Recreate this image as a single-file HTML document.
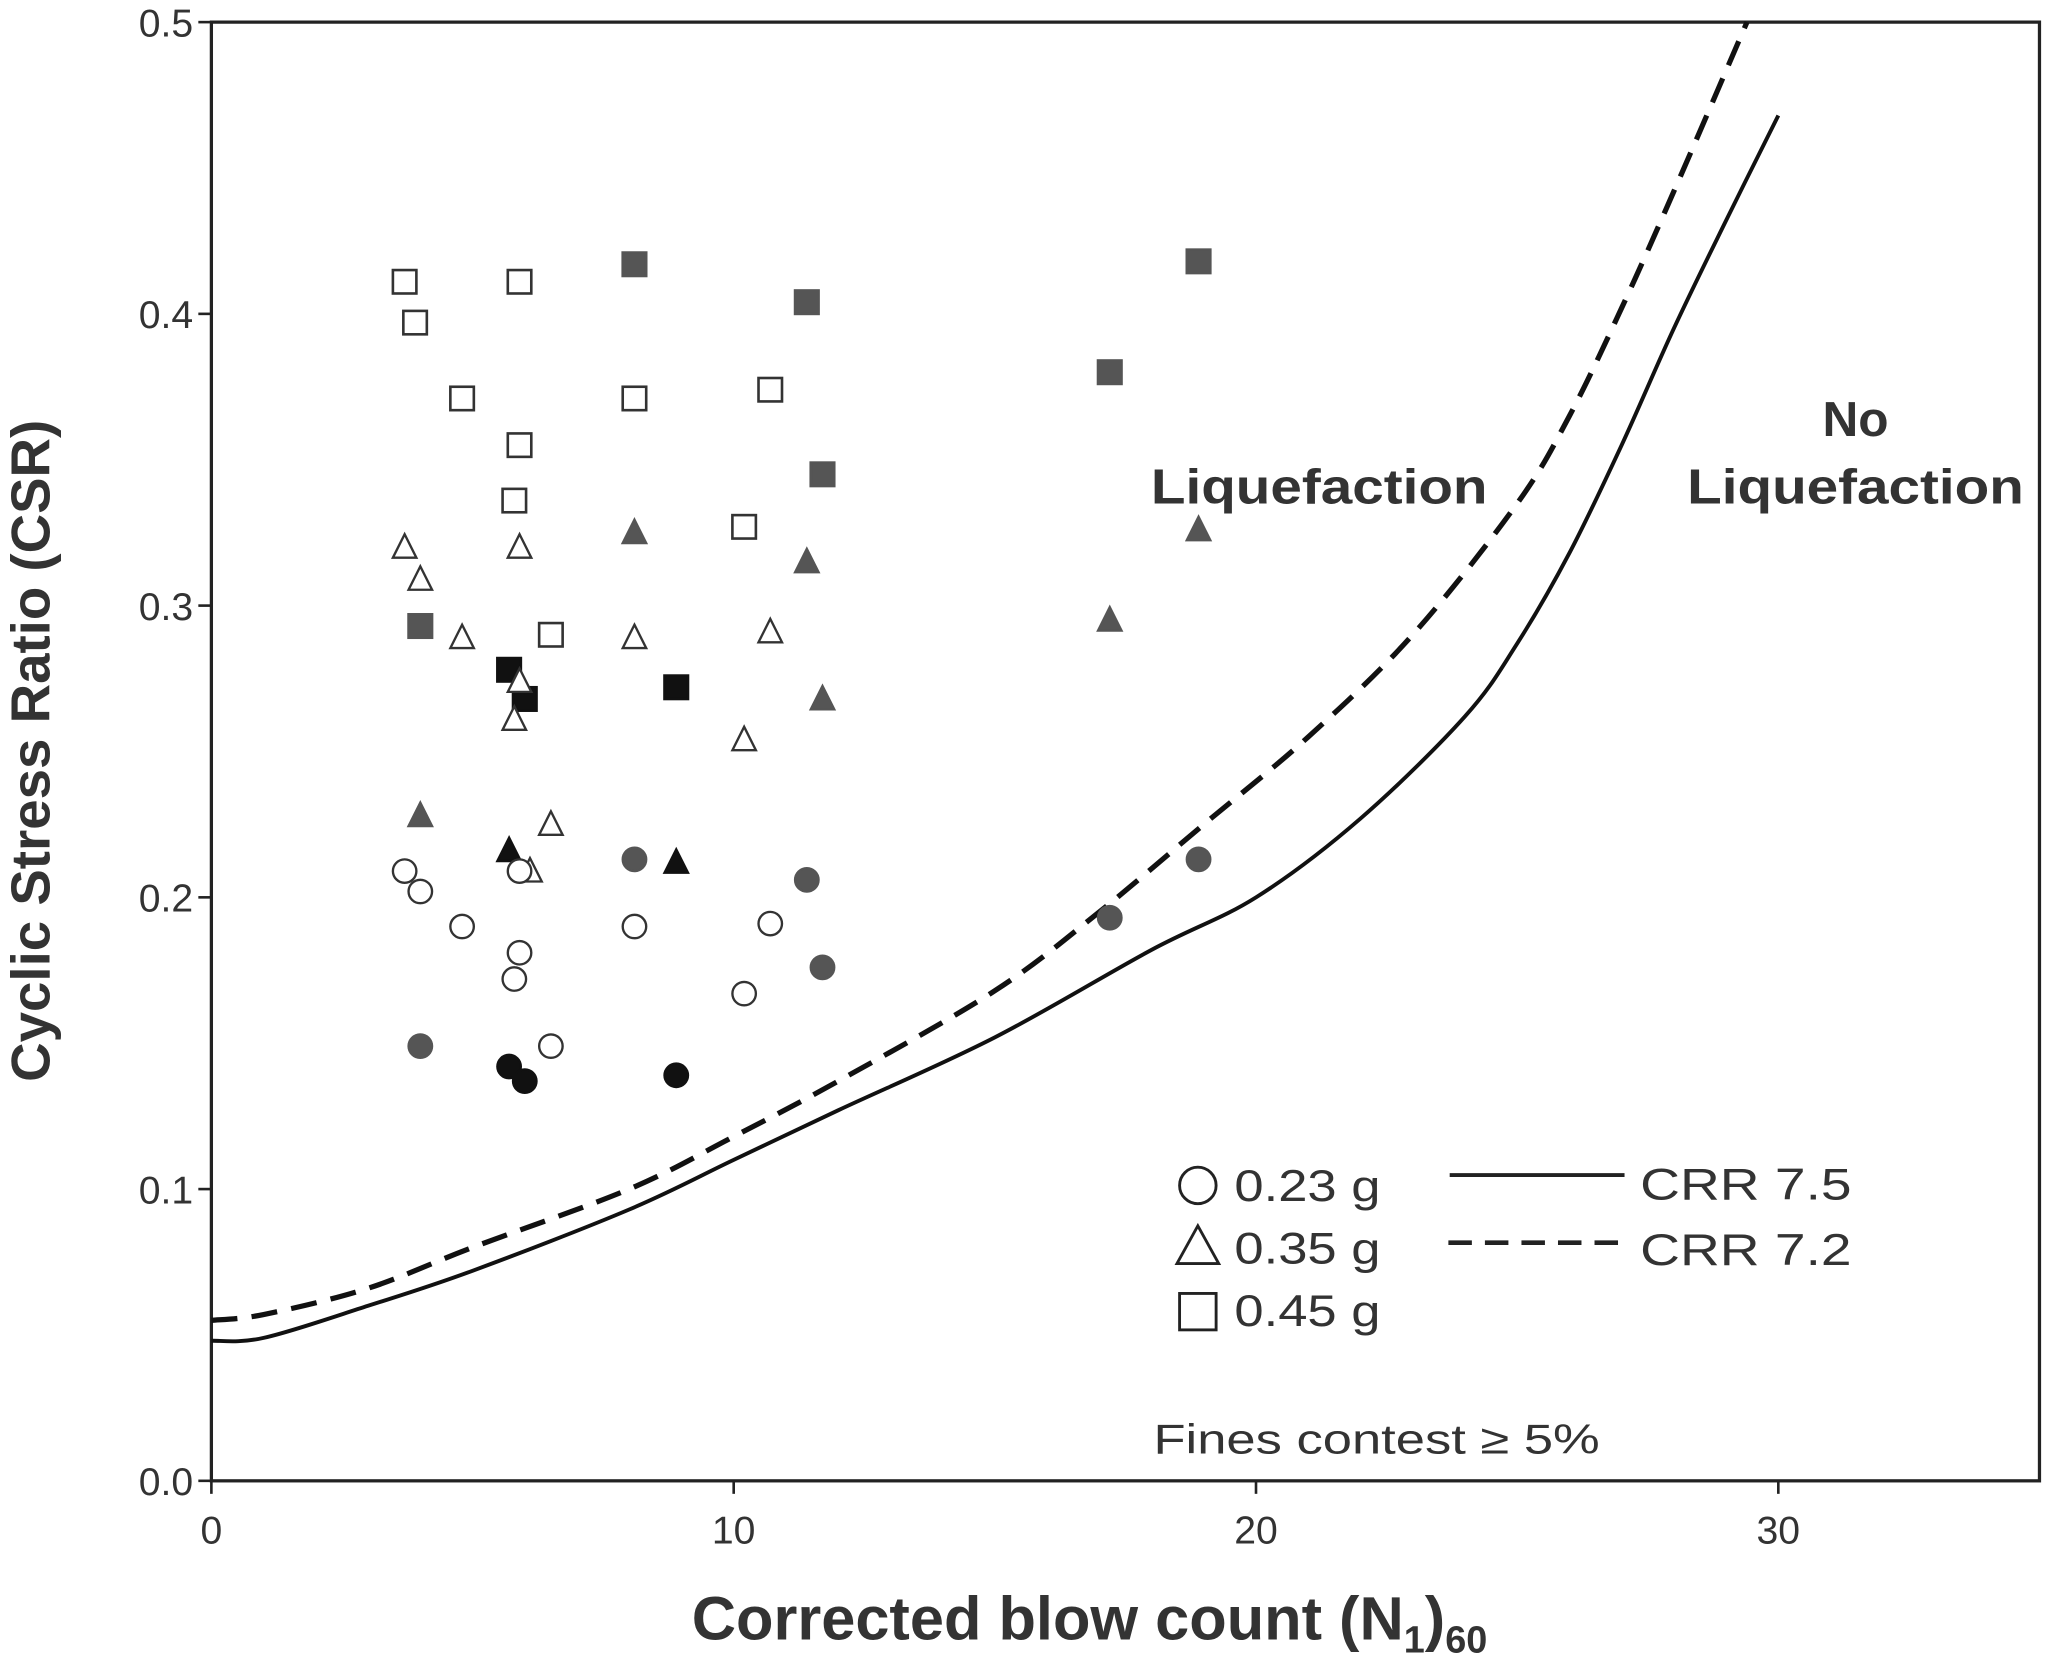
<!DOCTYPE html>
<html><head><meta charset="utf-8"><style>
html,body{margin:0;padding:0;background:#fff;}
svg{display:block;font-family:"Liberation Sans",Arial,sans-serif;}
</style></head><body>
<svg id="chart" width="2046" height="1663" viewBox="0 0 1568 1278" preserveAspectRatio="none" xmlns="http://www.w3.org/2000/svg">
<rect x="162" y="17" width="1401" height="1121" fill="none" stroke="#222" stroke-width="2.5"/>
<g id="axes"></g>
<g id="curves"></g>
<g id="marks"></g>
<text x="1011" y="387" text-anchor="middle" font-size="38" font-weight="bold" fill="#333" textLength="258" lengthAdjust="spacingAndGlyphs">Liquefaction</text>
<text x="1422" y="335" text-anchor="middle" font-size="38" font-weight="bold" fill="#333">No</text>
<text x="1422" y="387" text-anchor="middle" font-size="38" font-weight="bold" fill="#333" textLength="258" lengthAdjust="spacingAndGlyphs">Liquefaction</text>
<g>
<circle cx="918" cy="911" r="14" fill="#fff" stroke="#222" stroke-width="2.2"/>
<text x="946" y="923" font-size="34" fill="#333" textLength="112" lengthAdjust="spacingAndGlyphs">0.23 g</text>
<path d="M902,971 L918,942 L934,971 Z" fill="#fff" stroke="#222" stroke-width="2.2"/>
<text x="946" y="971" font-size="34" fill="#333" textLength="112" lengthAdjust="spacingAndGlyphs">0.35 g</text>
<rect x="904" y="994" width="28" height="28" fill="#fff" stroke="#222" stroke-width="2.2"/>
<text x="946" y="1019" font-size="34" fill="#333" textLength="112" lengthAdjust="spacingAndGlyphs">0.45 g</text>
<line x1="1111" y1="903" x2="1245" y2="903" stroke="#222" stroke-width="3"/>
<text x="1257" y="922" font-size="34" fill="#333" textLength="162" lengthAdjust="spacingAndGlyphs">CRR 7.5</text>
<line x1="1110" y1="955" x2="1246" y2="955" stroke="#222" stroke-width="3.5" stroke-dasharray="18,10"/>
<text x="1257" y="972" font-size="34" fill="#333" textLength="162" lengthAdjust="spacingAndGlyphs">CRR 7.2</text>
</g>
<text x="884" y="1117" font-size="32" fill="#333" textLength="342" lengthAdjust="spacingAndGlyphs">Fines contest ≥ 5%</text>
<text x="835" y="1260" text-anchor="middle" font-size="47" font-weight="bold" fill="#333">Corrected blow count (N<tspan font-size="29" dy="10">1</tspan><tspan dy="-10">)</tspan><tspan font-size="29" dy="10">60</tspan></text>
<text transform="translate(38,577) rotate(-90)" text-anchor="middle" font-size="42" font-weight="bold" fill="#333">Cyclic Stress Ratio (CSR)</text>
</svg>
<script>
const xTicks=[0,10,20,30];
const yTicks=[0.0,0.1,0.2,0.3,0.4,0.5];
const yTickLabels=["0.0","0.1","0.2","0.3","0.4","0.5"];
const crr75X=[0,1,3,5,8,10,12,15,18,20,22,24,25,26,27,28,29,30];
const crr75Y=[0.048,0.049,0.06,0.072,0.093,0.11,0.127,0.152,0.182,0.2,0.227,0.262,0.287,0.318,0.355,0.395,0.432,0.468];
const crr72X=[0,1,3,5,8,10,12,15,17,19,21,23,25,26,27,28,29.4];
const crr72Y=[0.055,0.057,0.066,0.08,0.1,0.118,0.137,0.168,0.195,0.225,0.255,0.29,0.335,0.365,0.402,0.442,0.5];
const openSqX=[3.7,3.9,4.8,5.9,5.9,5.8,6.5,8.1,10.2,10.7];
const openSqY=[0.411,0.397,0.371,0.411,0.355,0.336,0.290,0.371,0.327,0.374];
const graySqX=[4.0,8.1,11.4,11.7,17.2,18.9];
const graySqY=[0.293,0.417,0.404,0.345,0.380,0.418];
const blackSqX=[5.7,6.0,8.9];
const blackSqY=[0.278,0.268,0.272];
const openTriX=[3.7,4.0,4.8,5.9,5.8,5.9,6.5,8.1,10.2,10.7,6.1];
const openTriY=[0.320,0.309,0.289,0.320,0.261,0.274,0.225,0.289,0.254,0.291,0.209];
const grayTriX=[4.0,8.1,11.4,11.7,17.2,18.9];
const grayTriY=[0.228,0.325,0.315,0.268,0.295,0.326];
const blackTriX=[5.7,8.9];
const blackTriY=[0.216,0.212];
const openCirX=[3.7,4.0,4.8,5.9,5.9,5.8,6.5,8.1,10.2,10.7];
const openCirY=[0.209,0.202,0.190,0.209,0.181,0.172,0.149,0.190,0.167,0.191];
const grayCirX=[4.0,8.1,11.4,11.7,17.2,18.9];
const grayCirY=[0.149,0.213,0.206,0.176,0.193,0.213];
const blackCirX=[5.7,6.0,8.9];
const blackCirY=[0.142,0.137,0.139];

const NS="http://www.w3.org/2000/svg";
const X0=162,X1=1563,Y0=1138,Y1=17,XMAX=35,YMAX=0.5;
function sx(v){return X0+v*(X1-X0)/XMAX;}
function sy(v){return Y0-v*(Y0-Y1)/YMAX;}
function mk(tag,attrs,parent){const e=document.createElementNS(NS,tag);for(const k in attrs)e.setAttribute(k,attrs[k]);parent.appendChild(e);return e;}
const axes=document.getElementById('axes');
xTicks.forEach(t=>{
  const l=mk('line',{x1:sx(t),x2:sx(t),y1:Y0,y2:Y0+10,stroke:'#222','stroke-width':2},axes);
  
  
  const tx=mk('text',{x:sx(t),y:Y0+48,'text-anchor':'middle','font-size':30,fill:'#333'},axes);
  tx.textContent=String(t);
  
  
});
yTicks.forEach((t,i)=>{
  const l=mk('line',{x1:X0-10,x2:X0,y1:sy(t),y2:sy(t),stroke:'#222','stroke-width':2},axes);
  
  
  const tx=mk('text',{x:X0-14,y:sy(t)+11,'text-anchor':'end','font-size':30,fill:'#333'},axes);
  tx.textContent=yTickLabels[i];
  
  
});
function curve(xs,ys,dash,name){
  let d='';
  for(let i=0;i<xs.length;i++){
    const px=sx(xs[i]),py=sy(ys[i]);
    if(i===0){d+='M'+px+','+py;continue;}
    const p0x=sx(xs[Math.max(i-2,0)]),p0y=sy(ys[Math.max(i-2,0)]);
    const p1x=sx(xs[i-1]),p1y=sy(ys[i-1]);
    const p3x=sx(xs[Math.min(i+1,xs.length-1)]),p3y=sy(ys[Math.min(i+1,xs.length-1)]);
    d+=' C'+(p1x+(px-p0x)/6)+','+(p1y+(py-p0y)/6)+' '+(px-(p3x-p1x)/6)+','+(py-(p3y-p1y)/6)+' '+px+','+py;
  }
  const p=mk('path',{d:d,fill:'none',stroke:'#111','stroke-width':dash?4:3,'stroke-dasharray':dash?'20,11':'none'},document.getElementById('curves'));
  
  
}
curve(crr75X,crr75Y,false,'crr-7-5-curve');
curve(crr72X,crr72Y,true,'crr-7-2-curve');
const marks=document.getElementById('marks');
function pts(xs,ys,shape,fill,name){
  for(let i=0;i<xs.length;i++){
    const cx=sx(xs[i]),cy=sy(ys[i]);
    const st=fill==='#fff'?'#333':fill;
    let e;
    if(shape==='sq') e=mk('rect',{x:cx-9,y:cy-9,width:18,height:18,fill:fill,stroke:st,'stroke-width':2},marks);
    else if(shape==='tri') e=mk('path',{d:'M'+(cx-9)+','+(cy+8)+' L'+cx+','+(cy-10)+' L'+(cx+9)+','+(cy+8)+' Z',fill:fill,stroke:st,'stroke-width':1.8},marks);
    else e=mk('circle',{cx:cx,cy:cy,r:9,fill:fill,stroke:st,'stroke-width':1.8},marks);
    
    
  }
}
pts(openSqX,openSqY,'sq','#fff','open-square-point');
pts(graySqX,graySqY,'sq','#555','gray-square-point');
pts(blackSqX,blackSqY,'sq','#111','black-square-point');
pts(openTriX,openTriY,'tri','#fff','open-triangle-point');
pts(grayTriX,grayTriY,'tri','#555','gray-triangle-point');
pts(blackTriX,blackTriY,'tri','#111','black-triangle-point');
pts(openCirX,openCirY,'cir','#fff','open-circle-point');
pts(grayCirX,grayCirY,'cir','#555','gray-circle-point');
pts(blackCirX,blackCirY,'cir','#111','black-circle-point');
</script>
</body></html>
